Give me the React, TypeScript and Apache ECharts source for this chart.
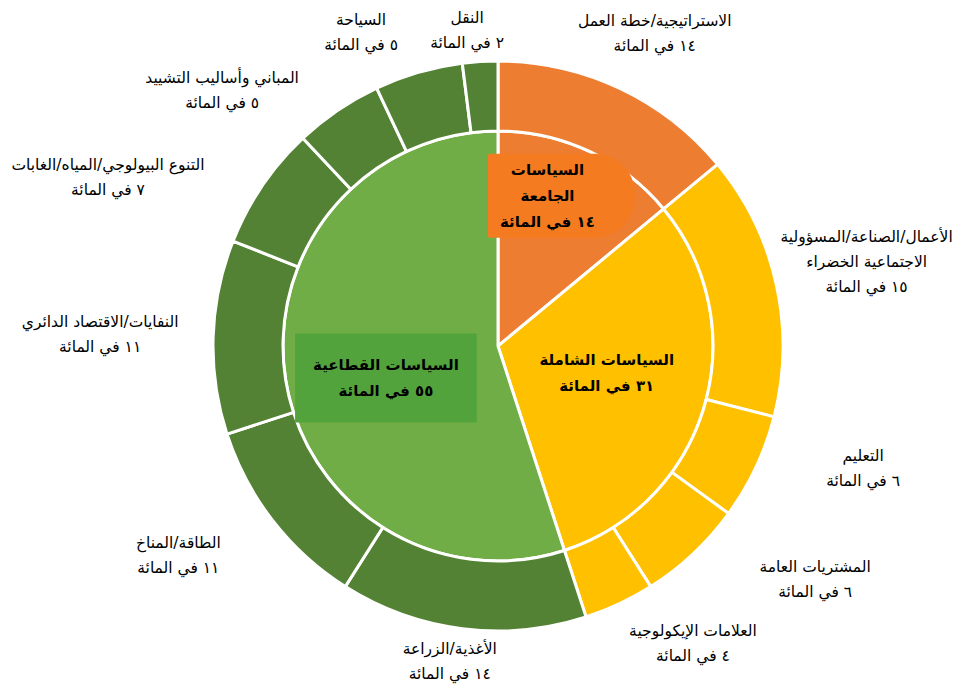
import React, { useEffect, useRef } from "react";
import * as echarts from "echarts";

// ---- data ----
const INNER_NAMES = ["السياسات\nالجامعة", "السياسات الشاملة", "السياسات القطاعية"];
const INNER_VALUES = [14, 31, 55];

const OUTER_NAMES = [
  "الاستراتيجية/خطة العمل",
  "الأعمال/الصناعة/المسؤولية\nالاجتماعية الخضراء",
  "التعليم",
  "المشتريات العامة",
  "العلامات الإيكولوجية",
  "الأغذية/الزراعة",
  "الطاقة/المناخ",
  "النفايات/الاقتصاد الدائري",
  "التنوع البيولوجي/المياه/الغابات",
  "المباني وأساليب التشييد",
  "السياحة",
  "النقل",
];
const OUTER_VALUES = [14, 15, 6, 6, 4, 14, 11, 11, 7, 5, 5, 2];
const OUTER_GROUP = [0, 1, 1, 1, 1, 2, 2, 2, 2, 2, 2, 2];

const UNIT = "في المائة";

// ---- styles / layout ----
const INNER_COLORS = ["#ED7D31", "#FFC000", "#70AD47"];
const OUTER_COLORS = ["#ED7D31", "#FFC000", "#548235"];
const CX = 498;
const CY = 346;
// label placement: [angle nudge (deg) from slice mid-angle, distance from centre (px)]
const OUTER_LABEL_POLAR = [
  [1.4, 350], [-0.2, 378], [-6.7, 385], [-10.4, 394], [-8.0, 356], [1.5, 319],
  [4.6, 382], [-0.2, 398], [-10.8, 425], [-13.0, 376], [-7.4, 342], [-2.0, 317],
];
const INNER_LABEL_POLAR = [[-2.3, 163], [-2.3, 112], [-6.9, 116.5]];

const AR_DIGITS = "٠١٢٣٤٥٦٧٨٩";
const toArabic = (n: number) => String(n).replace(/[0-9]/g, (d) => AR_DIGITS[+d]);

function midAngles(values: number[]) {
  const total = values.reduce((a, b) => a + b, 0);
  let acc = 0;
  return values.map((v) => {
    const m = ((acc + v / 2) / total) * 360;
    acc += v;
    return m;
  });
}

function polarLayout(values: number[], polar: number[][]) {
  const mids = midAngles(values);
  return (params: any) => {
    const i = params.dataIndex;
    const a = ((mids[i] + polar[i][0]) * Math.PI) / 180;
    const r = polar[i][1];
    return {
      x: CX + r * Math.sin(a),
      y: CY - r * Math.cos(a),
      align: "center",
      verticalAlign: "middle",
    };
  };
}

const FONT = "DejaVu Sans";

export default function App() {
  const ref = useRef<HTMLDivElement>(null);
  useEffect(() => {
    document.body.style.margin = "0";
    if (!ref.current) return;
    const chart = echarts.init(ref.current, undefined, { renderer: "svg" });
    const innerLabelBg = [
      { backgroundColor: "#F47B20", padding: [6, 40, 0, 12], borderRadius: [2, 40, 40, 2] },
      { backgroundColor: "transparent", padding: 0, borderRadius: 0 },
      { backgroundColor: "#53A33C", padding: [2, 18, 35, 18], borderRadius: 0 },
    ];
    chart.setOption({
      animation: false,
      backgroundColor: "#ffffff",
      series: [
        {
          type: "pie",
          name: "inner",
          center: [CX, CY],
          radius: [0, 215],
          startAngle: 90,
          clockwise: true,
          avoidLabelOverlap: false,
          itemStyle: { borderColor: "#ffffff", borderWidth: 3 },
          label: {
            show: true,
            position: "inside",
            color: "#000000",
            fontFamily: FONT,
            fontWeight: "bold",
            fontSize: 15,
            lineHeight: 26,
            formatter: (p: any) => `${p.name}\n${toArabic(p.value)} ${UNIT}`,
          },
          labelLine: { show: false },
          labelLayout: polarLayout(INNER_VALUES, INNER_LABEL_POLAR),
          emphasis: { disabled: true },
          data: INNER_NAMES.map((name, i) => ({
            name,
            value: INNER_VALUES[i],
            itemStyle: { color: INNER_COLORS[i] },
            label: innerLabelBg[i],
          })),
        },
        {
          type: "pie",
          name: "outer",
          center: [CX, CY],
          radius: [215, 285],
          startAngle: 90,
          clockwise: true,
          avoidLabelOverlap: false,
          itemStyle: { borderColor: "#ffffff", borderWidth: 3 },
          label: {
            show: true,
            position: "outside",
            color: "#000000",
            fontFamily: FONT,
            fontSize: 15.5,
            lineHeight: 25,
            formatter: (p: any) => `${p.name}\n${toArabic(p.value)} ${UNIT}`,
          },
          labelLine: { show: false },
          labelLayout: polarLayout(OUTER_VALUES, OUTER_LABEL_POLAR),
          emphasis: { disabled: true },
          data: OUTER_NAMES.map((name, i) => ({
            name,
            value: OUTER_VALUES[i],
            itemStyle: { color: OUTER_COLORS[OUTER_GROUP[i]] },
          })),
        },
      ],
    });
    return () => chart.dispose();
  }, []);
  return <div ref={ref} style={{ width: 974, height: 691 }} />;
}
